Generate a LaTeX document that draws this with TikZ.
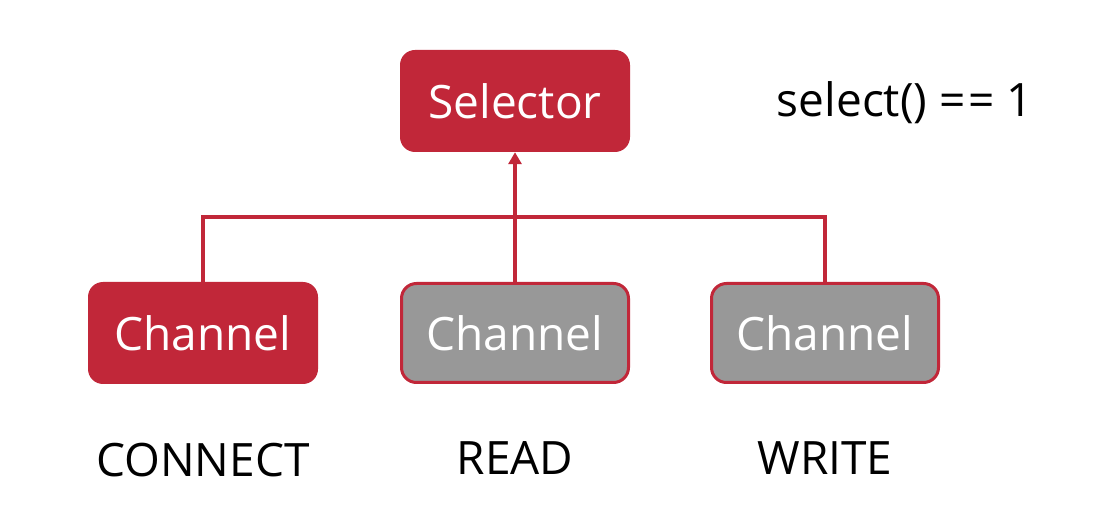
\documentclass[tikz,border=0pt]{standalone}
\usepackage{fontspec}
\setmainfont{Open Sans}
\usetikzlibrary{arrows.meta}
\definecolor{selred}{RGB}{193,39,57}
\definecolor{chgray}{RGB}{152,152,152}
\begin{document}
\begin{tikzpicture}[x=1pt,y=-1pt,
  box/.style={rounded corners=15pt,minimum width=230pt,minimum height=102pt,text=white,font=\fontsize{46}{52}\selectfont,inner sep=0pt},
  redbox/.style={box,fill=selred},
  graybox/.style={box,fill=chgray,draw=selred,line width=3pt,minimum width=227pt,minimum height=99pt},
  lbl/.style={font=\fontsize{46}{52}\selectfont,text=black,inner sep=0pt},
  link/.style={draw=selred,line width=4pt}]
\useasboundingbox[fill=white] (0,0) rectangle (1095,526);
\node[redbox] (sel) at (515,101) {Selector};
\node[redbox] (c1) at (203,333) {Channel};
\node[graybox] (c2) at (515,333) {Channel};
\node[graybox] (c3) at (825,333) {Channel};
\node[lbl] (sc) at (905,103) {select() =\hspace{3pt}= 1};
\node[lbl] (l1) at (203,460) {CONNECT};
\node[lbl] (l2) at (515,458) {READ};
\node[lbl] (l3) at (825,458) {WRITE};
\coordinate (bus) at (515,217);
\draw[link] (c1.north) |- (bus) -| (c3.north);
\draw[link,-{Triangle[length=12pt,width=13pt]}] (c2.north) -- (sel.south);
\end{tikzpicture}
\end{document}
